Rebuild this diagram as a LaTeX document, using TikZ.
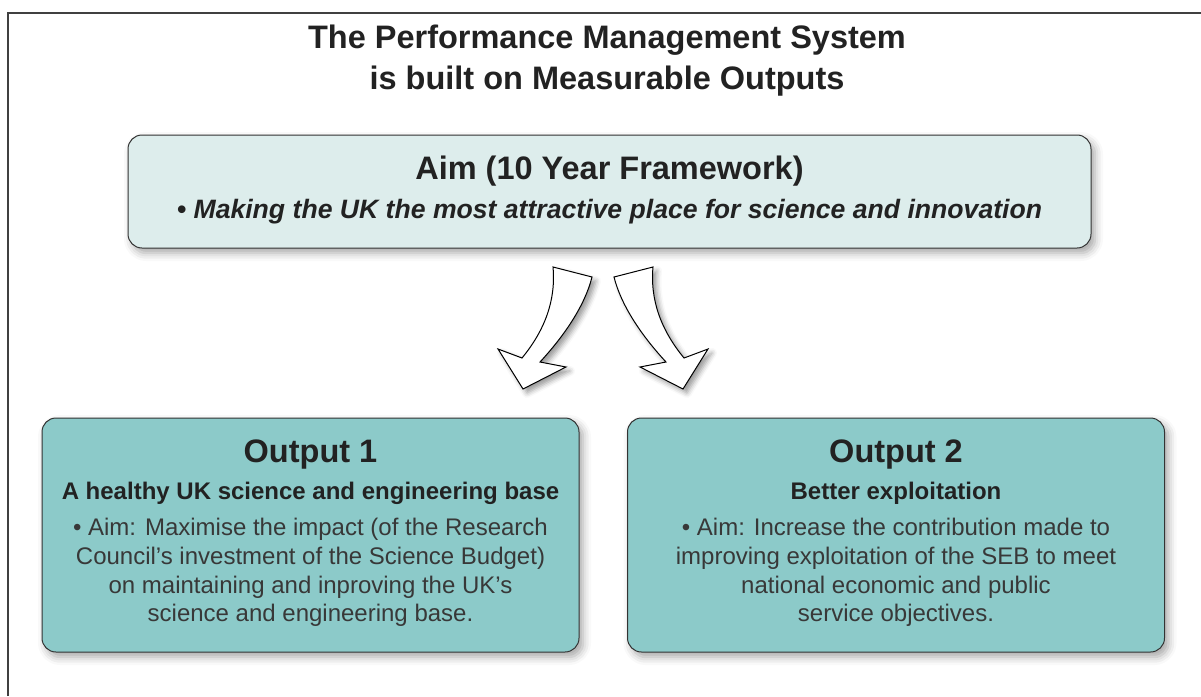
\documentclass[tikz,border=0pt]{standalone}
\usepackage{fontspec}
\setmainfont{Liberation Sans}
\usetikzlibrary{positioning, shadows.blur}
\definecolor{aimfill}{HTML}{DDEDEC}
\definecolor{outfill}{HTML}{8CCAC9}
\definecolor{ink}{HTML}{222222}
\tikzstyle{frame} = [draw=black!75, line width=1.4pt]
\tikzstyle{panel} = [rectangle, rounded corners=14pt, draw=black!80, line width=1pt, blur shadow={shadow xshift=4pt, shadow yshift=-5pt, shadow blur radius=8pt, shadow opacity=35}]
\tikzstyle{aimbox} = [panel, fill=aimfill, minimum width=963pt, minimum height=113pt]
\tikzstyle{outbox} = [panel, fill=outfill, minimum width=537pt, minimum height=234pt]
\tikzstyle{bentarrow} = [fill=white, draw=black, line width=1pt, line join=miter, blur shadow={shadow xshift=4pt, shadow yshift=-4pt, shadow blur radius=5pt, shadow opacity=40}]
\tikzstyle{title} = [text=ink, align=center, font=\bfseries\fontsize{32.5}{41}\selectfont]
\tikzstyle{head} = [text=ink, font=\bfseries\fontsize{32.5}{36}\selectfont]
\tikzstyle{sub} = [text=ink, font=\bfseries\fontsize{24}{28}\selectfont]
\tikzstyle{body} = [text=ink!90, align=center, font=\fontsize{24}{28.7}\selectfont]

\begin{document}
\begin{tikzpicture}[x=1pt, y=-1pt]
		\useasboundingbox (0,0) rectangle (1201,696);
		\draw [frame] (8,696) -- (8,13) -- (1201,13);
		\node (Title) at (607,61) [title] {The Performance Management System\\is built on Measurable Outputs};
		% aim of the framework
		\node (Aim) at (609.5,191.5) [aimbox] {};
		\node (AimHead) [head, below = 37pt of Aim.north, anchor=center] {Aim (10 Year Framework)};
		\node (AimText) [sub, font=\bfseries\itshape\fontsize{26.6}{30}\selectfont, below = 77pt of Aim.north, anchor=center] {\textbullet\ Making the UK the most attractive place for science and innovation};
		% two outputs
		\node (OutOne) at (310.5,535) [outbox] {};
		\node (OutOneHead) [head, below = 37pt of OutOne.north, anchor=center] {Output 1};
		\node (OutOneSub) [sub, below = 76pt of OutOne.north, anchor=center] {A healthy UK science and engineering base};
		\node (OutOneText) [body, below = 155pt of OutOne.north, anchor=center] {\textbullet\ Aim: Maximise the impact (of the Research\\Council’s investment of the Science Budget)\\on maintaining and inproving the UK’s\\science and engineering base.};
		\node (OutTwo) at (896,535) [outbox] {};
		\node (OutTwoHead) [head, below = 37pt of OutTwo.north, anchor=center] {Output 2};
		\node (OutTwoSub) [sub, below = 76pt of OutTwo.north, anchor=center] {Better exploitation};
		\node (OutTwoText) [body, below = 155pt of OutTwo.north, anchor=center] {\textbullet\ Aim: Increase the contribution made to\\improving exploitation of the SEB to meet\\national economic and public\\service objectives.};
		% bent arrows
		\path [bentarrow] (553,267) .. controls (556,300) and (545,330) .. (522,358) -- (498,349) -- (523,389) -- (566,367) -- (540,362) .. controls (565,335) and (585,305) .. (592,277) -- cycle;
		\path [bentarrow] (653,267) .. controls (650,300) and (661,330) .. (684,358) -- (708,349) -- (683,389) -- (640,367) -- (666,362) .. controls (641,335) and (621,305) .. (614,277) -- cycle;
\end{tikzpicture}
\end{document}
